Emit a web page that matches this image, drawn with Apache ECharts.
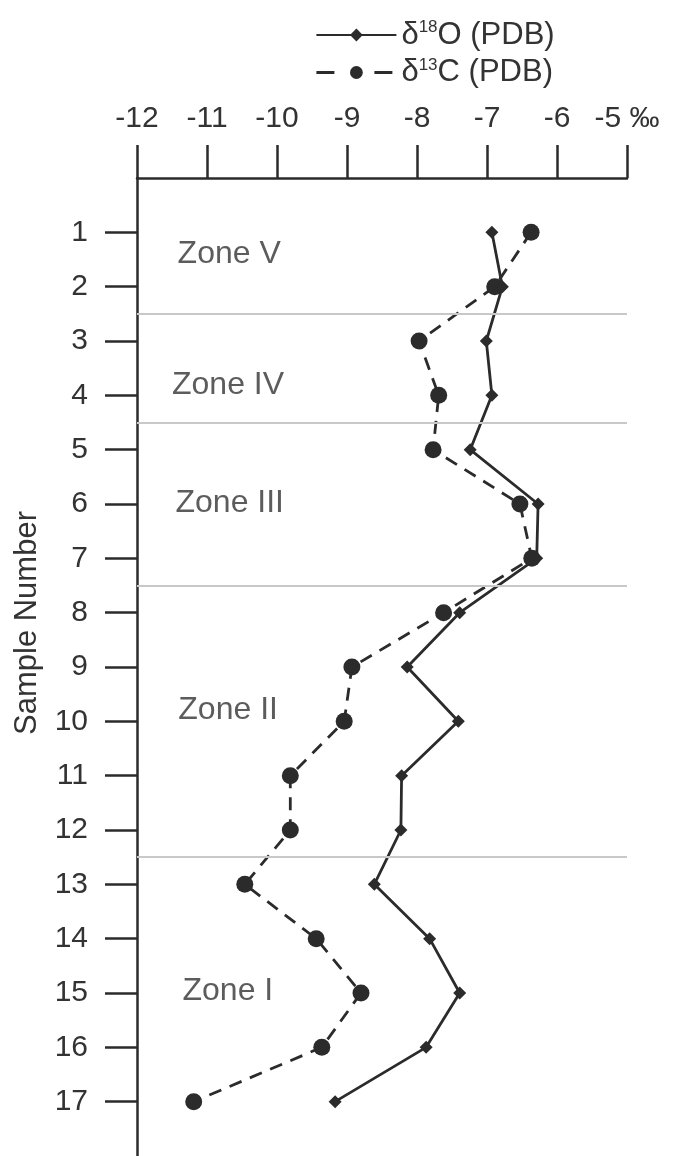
<!DOCTYPE html>
<html>
<head>
<meta charset="utf-8">
<title>δ18O and δ13C by sample</title>
<script src="https://cdn.jsdelivr.net/npm/echarts@6/dist/echarts.min.js"></script>
<style>
  html, body { margin: 0; padding: 0; background: #fff; }
  #chart { width: 686px; height: 1156px; }
</style>
</head>
<body>
<div id="chart"></div>
<script>
// Sample numbers (down the profile)
const samples = [1, 2, 3, 4, 5, 6, 7, 8, 9, 10, 11, 12, 13, 14, 15, 16, 17];
// Isotope values, ‰ PDB
const d18O = [-6.93, -6.78, -7.01, -6.93, -7.24, -6.27, -6.29, -7.39, -8.14, -7.41, -8.22, -8.23, -8.61, -7.82, -7.39, -7.87, -9.17];
const d13C = [-6.37, -6.89, -7.97, -7.69, -7.77, -6.53, -6.36, -7.62, -8.93, -9.04, -9.81, -9.81, -10.46, -9.44, -8.80, -9.36, -11.19];
// Zone boundaries (between samples) and zone captions
const zoneBounds = [2.5, 4.5, 7.5, 12.5];
const zoneNames = ['Zone V', 'Zone IV', 'Zone III', 'Zone II', 'Zone I'];
const zoneLabelX = [-11.42, -11.5, -11.45, -11.41, -11.35];
const zoneLabelY = [1.41, 3.81, 5.98, 9.8, 14.96];
// Top axis ticks
const xTicks = [-12, -11, -10, -9, -8, -7, -6, -5];

const INK = '#2b2b2b';
const TXT = '#333333';
const FONT = '"Liberation Sans", Arial, Helvetica, sans-serif';

const chart = echarts.init(document.getElementById('chart'), null, { renderer: 'canvas' });

const legendNames = {
  'δ18O (PDB)': '{t|δ}{s|18}{t|O (PDB)}',
  'δ13C (PDB)': '{t|δ}{s|13}{t|C (PDB)}'
};

chart.setOption({
  animation: false,
  backgroundColor: '#ffffff',
  grid: {
    left: 137, right: 59, top: 178, bottom: 0,
    containLabel: false,
    outerBoundsMode: 'none'
  },
  legend: {
    orient: 'vertical',
    left: 310,
    top: 14,
    itemWidth: 80,
    itemHeight: 16,
    itemGap: 6,
    selectedMode: false,
    formatter: name => legendNames[name] || name,
    textStyle: {
      color: TXT,
      fontFamily: FONT,
      rich: {
        t: { fontSize: 31, fontFamily: FONT, color: TXT, lineHeight: 32 },
        s: { fontSize: 17, fontFamily: FONT, color: TXT, lineHeight: 32, verticalAlign: 'top', padding: [0, 0, 8, 0] }
      }
    },
    data: [
      { name: 'δ18O (PDB)' },
      { name: 'δ13C (PDB)', lineStyle: { type: [18, 40, 18, 100], width: 2.8 } }
    ]
  },
  xAxis: {
    type: 'value',
    position: 'top',
    min: xTicks[0],
    max: xTicks[xTicks.length - 1],
    interval: 1,
    axisLine: { onZero: false, lineStyle: { color: INK, width: 2.5 } },
    axisTick: { show: true, inside: false, length: 33, lineStyle: { color: INK, width: 2.5 } },
    axisLabel: {
      color: TXT,
      fontSize: 30,
      fontFamily: FONT,
      margin: 44,
      formatter: v => (v === -5 ? '-5 ‰' : String(v))
    },
    splitLine: { show: false }
  },
  yAxis: {
    type: 'value',
    inverse: true,
    min: 0,
    max: 18,
    axisLine: { onZero: false, lineStyle: { color: INK, width: 2.5 } },
    axisTick: { show: true, inside: false, length: 32, customValues: samples, lineStyle: { color: INK, width: 2.5 } },
    axisLabel: { color: TXT, fontSize: 30, fontFamily: FONT, margin: 49, customValues: samples },
    splitLine: { show: false }
  },
  graphic: [{
    type: 'text',
    x: 27,
    y: 623,
    rotation: Math.PI / 2,
    style: {
      text: 'Sample Number',
      fill: TXT,
      font: '31px ' + FONT,
      textAlign: 'center',
      textVerticalAlign: 'middle'
    }
  }],
  series: [
    {
      name: 'zones',
      type: 'scatter',
      symbolSize: 0,
      silent: true,
      z: 1,
      data: zoneNames.map((n, i) => [zoneLabelX[i], zoneLabelY[i], n]),
      label: {
        show: true,
        position: 'right',
        distance: 0,
        formatter: p => p.value[2],
        color: TXT,
        fontSize: 32,
        fontFamily: FONT
      },
      markLine: {
        silent: true,
        symbol: ['none', 'none'],
        label: { show: false },
        lineStyle: { color: '#c8c8c8', width: 2, type: 'solid' },
        data: zoneBounds.map(b => ({ yAxis: b }))
      }
    },
    {
      name: 'δ18O (PDB)',
      type: 'line',
      z: 3,
      symbol: 'diamond',
      symbolSize: [13, 13],
      color: INK,
      itemStyle: { color: INK },
      lineStyle: { color: INK, width: 2.8, type: 'solid' },
      data: samples.map((s, i) => [d18O[i], s])
    },
    {
      name: 'δ13C (PDB)',
      type: 'line',
      z: 2,
      symbol: 'circle',
      symbolSize: 17,
      color: INK,
      itemStyle: { color: INK },
      lineStyle: { color: INK, width: 2.8, type: [13, 9] },
      data: samples.map((s, i) => [d13C[i], s])
    }
  ]
});
</script>
</body>
</html>
